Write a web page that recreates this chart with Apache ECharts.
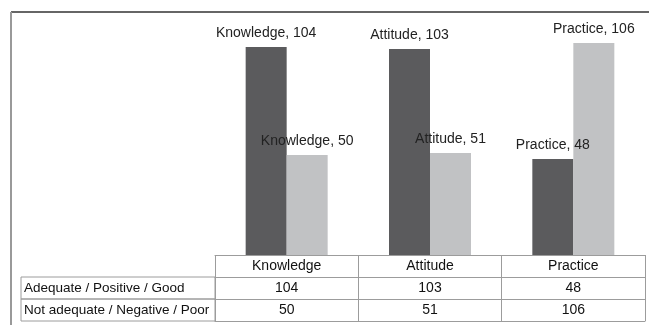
<!DOCTYPE html>
<html>
<head>
<meta charset="utf-8">
<script src="https://cdn.jsdelivr.net/npm/echarts@6/dist/echarts.min.js"></script>
<style>
    html, body { margin: 0; padding: 0; background: #fff; }
    #main { width: 649px; height: 325px; }
</style>
</head>
<body>
<div id="main"></div>
<script>
var categories = ['Knowledge', 'Attitude', 'Practice'];
var rowNames = ['Adequate / Positive / Good', 'Not adequate / Negative / Poor'];
var goodValues = [104, 103, 48];
var poorValues = [50, 51, 106];

var gridLeft = 215, gridRight = 4, gridTop = 15, gridBottom = 70;
var rowH = 22;
var lineColor = '#9c9c9c';
var font = 'Liberation Sans, Arial, sans-serif';

var myChart = echarts.init(document.getElementById('main'));

// one category axis per table row, stacked with offsets
function tableAxis(offset, values, showTick) {
    return {
        type: 'category',
        data: categories,
        position: 'bottom',
        offset: offset,
        axisLine: { show: true, lineStyle: { color: lineColor, width: 1 } },
        axisTick: { show: showTick, length: rowH, lineStyle: { color: lineColor, width: 1 } },
        axisLabel: {
            show: values !== null,
            interval: 0,
            margin: 4,
            fontSize: 14,
            fontFamily: font,
            color: '#111',
            formatter: function(value, index) {
                return values ? String(values[index]) : value;
            }
        },
        splitLine: { show: false }
    };
}

var H = 325;
var tableTop = H - gridBottom;
var graphics = [
    { type: 'line', shape: { x1: 11, y1: 12, x2: 649, y2: 12 }, style: { stroke: '#333', lineWidth: 1.5 } },
    { type: 'line', shape: { x1: 11, y1: 12, x2: 11, y2: 325 }, style: { stroke: '#999', lineWidth: 2 } }
];
for (var r = 0; r < rowNames.length; r++) {
    var y0 = tableTop + rowH * (r + 1);
    graphics.push({
        type: 'rect',
        shape: { x: 21, y: y0, width: gridLeft - 21, height: rowH },
        style: { fill: 'none', stroke: lineColor, lineWidth: 1 }
    });
    graphics.push({
        type: 'text',
        x: 24,
        y: y0 + rowH / 2,
        style: {
            text: rowNames[r],
            fontSize: 13.5,
            fontFamily: font,
            fill: '#111',
            verticalAlign: 'middle'
        }
    });
}

var barLabel = {
    show: true,
    position: 'top',
    distance: 7,
    formatter: '{b}, {c}',
    fontSize: 14,
    fontFamily: font,
    color: '#222'
};

option = {
    backgroundColor: '#fff',
    animation: false,
    grid: { left: gridLeft, right: gridRight, top: gridTop, bottom: gridBottom },
    xAxis: [
        tableAxis(0, undefined, true),
        tableAxis(rowH, goodValues, true),
        tableAxis(rowH * 2, poorValues, true),
        tableAxis(rowH * 3, null, false)
    ],
    yAxis: { type: 'value', min: 0, max: 120, show: false },
    series: [{
        name: rowNames[0],
        type: 'bar',
        data: goodValues,
        barWidth: 41,
        barGap: '0%',
        itemStyle: { color: '#5b5b5d' },
        label: barLabel
    }, {
        name: rowNames[1],
        type: 'bar',
        data: poorValues,
        barWidth: 41,
        itemStyle: { color: '#c1c2c4' },
        label: barLabel
    }],
    graphic: graphics
};

myChart.setOption(option);
</script>
</body>
</html>
